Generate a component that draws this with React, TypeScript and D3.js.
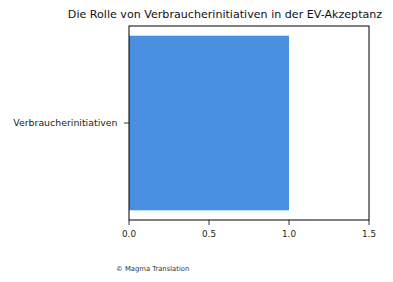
import React from "react";
import * as d3 from "d3";

const categories = ["Verbraucherinitiativen"];
const values = [1.0];
const xTicks = [0, 0.5, 1.0, 1.5];
const title = "Die Rolle von Verbraucherinitiativen in der EV-Akzeptanz";
const footnote = "© Magma Translation";

export default function App() {
  const W = 393, H = 282;
  const left = 129, right = 369, top = 26, bottom = 220;
  const x = d3.scaleLinear().domain([0, 1.5]).range([left, right]);
  const y = d3.scaleBand().domain(categories).range([top, bottom]).paddingInner(0.1).paddingOuter(0.05);
  const font = "'DejaVu Sans', sans-serif";
  return (
    <svg width={W} height={H} style={{ position: "absolute", left: 0, top: 0 }} fontFamily={font}>
      <rect width={W} height={H} fill="#fff" />
      <text x={225} y={17.5} textAnchor="middle" fontSize={11.1} fill="#111">{title}</text>
      {categories.map((c, i) => (
        <rect key={c} x={x(0)} y={y(c)!} width={x(values[i]) - x(0)} height={y.bandwidth()} fill="#4a90e2" />
      ))}
      <rect x={left} y={top} width={right - left} height={bottom - top} fill="none" stroke="#000" strokeWidth={1} />
      {xTicks.map((t) => (
        <g key={t}>
          <line x1={x(t)} x2={x(t)} y1={bottom} y2={bottom + 5} stroke="#000" strokeWidth={0.8} />
          <text x={x(t)} y={bottom + 16.5} textAnchor="middle" fontSize={8.8} fill="#222">{t.toFixed(1)}</text>
        </g>
      ))}
      {categories.map((c) => (
        <g key={c}>
          <line x1={left - 5} x2={left} y1={y(c)! + y.bandwidth() / 2} y2={y(c)! + y.bandwidth() / 2} stroke="#000" strokeWidth={0.8} />
          <text x={left - 11.5} y={y(c)! + y.bandwidth() / 2} dy="0.35em" textAnchor="end" fontSize={9.4} fill="#222">{c}</text>
        </g>
      ))}
      <text x={116} y={271} fontSize={6.8} fill="#333">{footnote}</text>
    </svg>
  );
}
